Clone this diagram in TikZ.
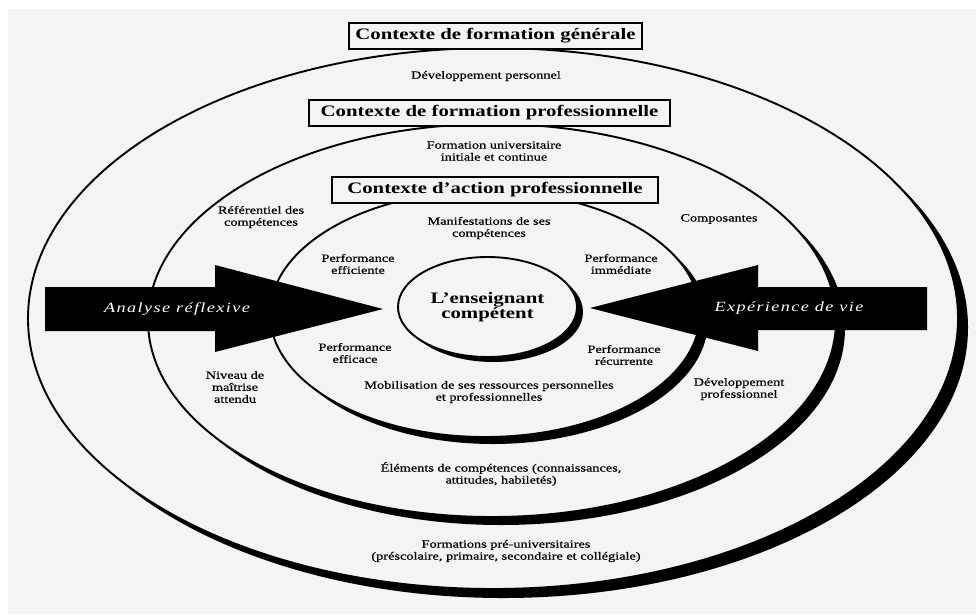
\documentclass[tikz,border=0pt]{standalone}
\usepackage{fontspec}
\setmainfont{Liberation Serif}[FakeStretch=1.3]
\newfontfamily\labelfont{Liberation Serif}[FakeStretch=1.3,FakeBold=0.6]
\newfontfamily\arrowfont{Liberation Serif}[FakeStretch=1.3,LetterSpace=10]
\usetikzlibrary{shapes.geometric,shadows}
\definecolor{bg}{HTML}{F4F4F4}
\begin{document}
\begin{tikzpicture}[x=1pt,y=-1pt,
  ring/.style={ellipse, draw, line width=1.9pt, fill=bg, inner sep=0pt},
  shad/.style 2 args={drop shadow={shadow xshift=#1pt, shadow yshift=-#2pt, opacity=1, fill=black}},
  ctxbox/.style={draw, line width=2pt, fill=bg, inner sep=0pt, minimum height=26pt,
    font=\fontsize{16}{18}\selectfont\bfseries},
  lbl/.style={font=\fontsize{11}{12}\selectfont\labelfont, align=center, inner sep=0pt},
  arrowtxt/.style={font=\fontsize{14}{16}\selectfont\arrowfont\itshape, text=white, inner sep=0pt},
  bigarrow/.style={fill=black}
]
\useasboundingbox (0,0) rectangle (976,614);
\fill[white] (0,0) rectangle (976,614);
\fill[bg] (8,9) rectangle (976,614);

% rings
\node[ring, shad={10}{9}, minimum width=930pt, minimum height=541pt] (outer) at (493,318.5) {};
\node[ring, shad={9}{8}, minimum width=688pt, minimum height=393pt] (middle) at (492,320.5) {};
\node[ring, shad={8}{7}, minimum width=430pt, minimum height=246pt] (inner) at (485,314) {};
\node[ring, shad={6}{5}, minimum width=179pt, minimum height=100pt, align=center,
      font=\fontsize{16}{15}\selectfont\bfseries] (core) at (487.5,307) {L’enseignant\\compétent};

% arrows
\fill[bigarrow] (45,287) -- (215,287) -- (215,265) -- (383,309) -- (215,352) -- (215,331) -- (45,331) -- cycle;
\fill[bigarrow] (927,287) -- (758,287) -- (758,265) -- (590,308) -- (758,351) -- (758,330) -- (927,330) -- cycle;
\node[arrowtxt] (ana) at (177,309) {Analyse réflexive};
\node[arrowtxt] (exp) at (789,308) {Expérience de vie};

% context boxes
\node[ctxbox, minimum width=293pt] (b1) at (495.5,35.5) {Contexte de formation générale};
\node[ctxbox, minimum width=361pt] (b2) at (489.5,113) {Contexte de formation professionnelle};
\node[ctxbox, minimum width=326pt] (b3) at (495,189.5) {Contexte d’action professionnelle};

% labels
\node[lbl] (dp) at (486,76) {Développement personnel};
\node[lbl] (fu) at (494,151) {Formation universitaire\\initiale et continue};
\node[lbl] (ref) at (261,217) {Référentiel des\\compétences};
\node[lbl] (man) at (489,228) {Manifestations de ses\\compétences};
\node[lbl] (cmp) at (719,219) {Composantes};
\node[lbl] (pef) at (358,264) {Performance\\efficiente};
\node[lbl] (pim) at (621,264) {Performance\\immédiate};
\node[lbl] (pea) at (355,353) {Performance\\efficace};
\node[lbl] (pre) at (624,355) {Performance\\récurrente};
\node[lbl] (niv) at (235,387) {Niveau de\\maîtrise\\attendu};
\node[lbl] (mob) at (489,392) {Mobilisation de ses ressources personnelles\\et professionnelles};
\node[lbl] (dpr) at (739,389) {Développement\\professionnel};
\node[lbl] (ele) at (501,474) {Éléments de compétences (connaissances,\\attitudes, habiletés)};
\node[lbl] (fpu) at (506,551) {Formations pré-universitaires\\(préscolaire, primaire, secondaire et collégiale)};
\end{tikzpicture}
\end{document}
